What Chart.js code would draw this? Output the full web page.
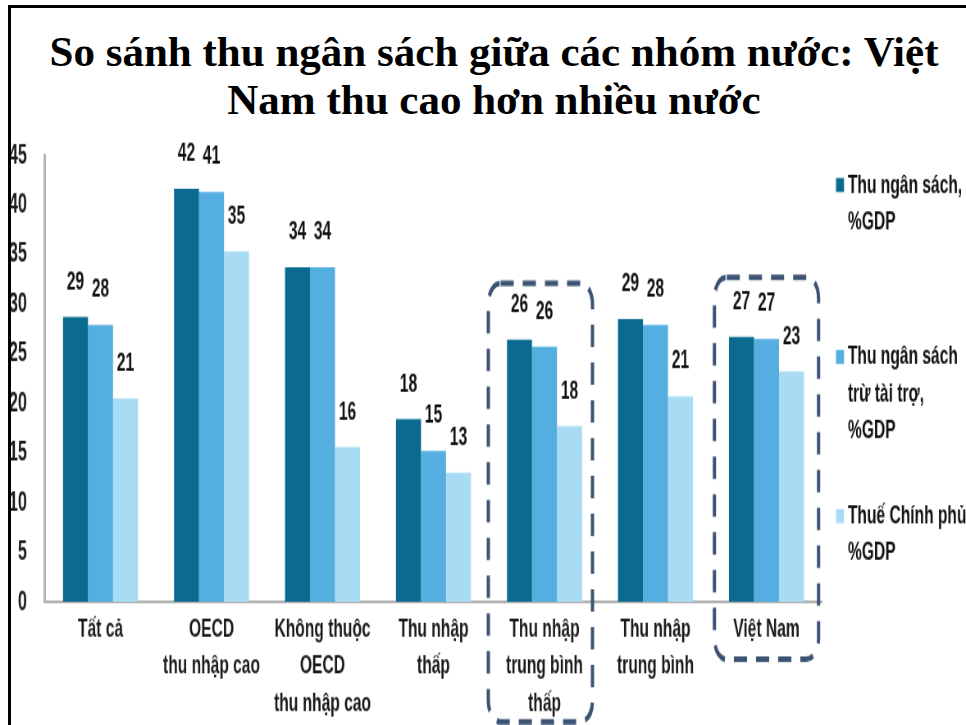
<!DOCTYPE html>
<html>
<head>
<meta charset="utf-8">
<script src="https://cdn.jsdelivr.net/npm/chart.js@4.4.1/dist/chart.umd.min.js"></script>
<style>
html,body{margin:0;padding:0;width:966px;height:725px;overflow:hidden;background:#fff;}
#title{position:absolute;left:8px;top:28px;width:972px;text-align:center;font-family:'Liberation Serif','Times New Roman',serif;font-weight:bold;font-size:43px;line-height:48px;color:#000;white-space:nowrap;}
#frame{position:absolute;left:8px;top:5px;width:1000px;height:1000px;border-left:3px solid #000;border-top:3px solid #000;pointer-events:none;z-index:3;}
#c{position:absolute;left:0;top:130px;transform:scale(0.82,1.4);transform-origin:0 0;}
</style>
</head>
<body>
<div id="frame"></div>
<div id="title">So sánh thu ngân sách giữa các nhóm nước: Việt<br>Nam thu cao hơn nhiều nước</div>
<canvas id="c" width="1178" height="425"></canvas>
<script>
// ---- data ----
const categories = [
  'Tất cả',
  ['OECD', 'thu nhập cao'],
  ['Không thuộc', 'OECD', 'thu nhập cao'],
  ['Thu nhập', 'thấp'],
  ['Thu nhập', 'trung bình', 'thấp'],
  ['Thu nhập', 'trung bình'],
  'Việt Nam'
];
const seriesNames = [
  ['Thu ngân sách,', '%GDP'],
  ['Thu ngân sách', 'trừ tài trợ,', '%GDP'],
  ['Thuế Chính phủ', '%GDP']
];
const revenue = [28.7, 41.6, 33.7, 18.4, 26.4, 28.5, 26.7];
const revenueExGrants = [27.9, 41.3, 33.7, 15.2, 25.7, 27.9, 26.5];
const taxRevenue = [20.5, 35.3, 15.6, 13.0, 17.7, 20.7, 23.2];
const yMin = 0, yMax = 45, yStep = 5;
const highlightBoxes = [
  {category: 4, top: 32.1, bottom: -12.1},
  {category: 6, top: 32.7, bottom: -5.8}
];

// ---- styles ----
const FONT = "'Liberation Sans Narrow','Arial Narrow','Liberation Sans',Arial,sans-serif";
const colors = ['#0b6a90', '#55aee0', '#a8dcf5'];

const valueLabels = {
  id: 'valueLabels',
  afterDatasetsDraw(chart) {
    const ctx = chart.ctx;
    ctx.save();
    ctx.font = 'bold 19px ' + FONT;
    ctx.fillStyle = '#111';
    ctx.textAlign = 'center';
    ctx.textBaseline = 'middle';
    chart.data.datasets.forEach((ds, i) => {
      chart.getDatasetMeta(i).data.forEach((bar, j) => {
        ctx.fillText(String(Math.round(ds.data[j])), bar.x, bar.y - 25);
      });
    });
    ctx.restore();
  }
};

const boxOffsets = [-5, 0];
const dashedBoxes = {
  id: 'dashedBoxes',
  afterDatasetsDraw(chart) {
    const ctx = chart.ctx, xs = chart.scales.x, ys = chart.scales.y;
    ctx.save();
    ctx.strokeStyle = '#3d5373';
    ctx.lineWidth = 4;
    ctx.setLineDash([16, 11]);
    highlightBoxes.forEach((b, k) => {
      const cx = xs.getPixelForValue(b.category) + boxOffsets[k];
      const half = 63.5;
      const y1 = ys.getPixelForValue(b.top), y2 = ys.getPixelForValue(b.bottom);
      ctx.beginPath();
      ctx.roundRect(cx - half, y1, half * 2, y2 - y1, 15);
      ctx.stroke();
    });
    ctx.restore();
  }
};

const legendStartY = [39.3, 162.1, 275.7];
const sideLegend = {
  id: 'sideLegend',
  afterDraw(chart) {
    const ctx = chart.ctx;
    ctx.save();
    ctx.font = 'bold 19px ' + FONT;
    ctx.textAlign = 'left';
    ctx.textBaseline = 'middle';
    chart.data.datasets.forEach((ds, i) => {
      const y0 = legendStartY[i];
      ctx.fillStyle = ds.backgroundColor;
      ctx.fillRect(1019.5, y0 - 5, 9.8, 10);
      ctx.fillStyle = '#111';
      ds.labelLines.forEach((t, k) => ctx.fillText(t, 1034, y0 + k * 26.5));
    });
    ctx.restore();
  }
};

const datasets = [revenue, revenueExGrants, taxRevenue].map((d, i) => ({
  label: seriesNames[i].join(' '),
  labelLines: seriesNames[i],
  data: d,
  backgroundColor: colors[i],
  borderWidth: 0,
  categoryPercentage: 0.676,
  barPercentage: 1.0
}));

new Chart(document.getElementById('c'), {
  type: 'bar',
  data: {labels: categories, datasets},
  plugins: [dashedBoxes, valueLabels, sideLegend],
  options: {
    responsive: false,
    animation: false,
    devicePixelRatio: 1,
    layout: {padding: {top: 18, right: 175.6, left: 0, bottom: 0}},
    plugins: {legend: {display: false}, title: {display: false}, tooltip: {enabled: false}},
    scales: {
      x: {
        grid: {display: false, drawTicks: false},
        border: {display: true, color: '#b3b3b3', width: 2},
        ticks: {font: {family: FONT, size: 19, weight: 'bold', lineHeight: 1.4}, color: '#1a1a1a', padding: 6, maxRotation: 0, autoSkip: false},
        afterFit(s) { s.height = 88; s.paddingLeft = 0; s.paddingRight = 0; }
      },
      y: {
        min: yMin, max: yMax,
        ticks: {stepSize: yStep, font: {family: FONT, size: 20, weight: 'bold'}, color: '#1a1a1a', padding: 22},
        grid: {display: false, drawTicks: false},
        border: {display: true, color: '#b3b3b3', width: 3},
        afterFit(s) { s.width = 54.9; s.paddingTop = 0; s.paddingBottom = 0; }
      }
    }
  }
});
</script>
</body>
</html>
